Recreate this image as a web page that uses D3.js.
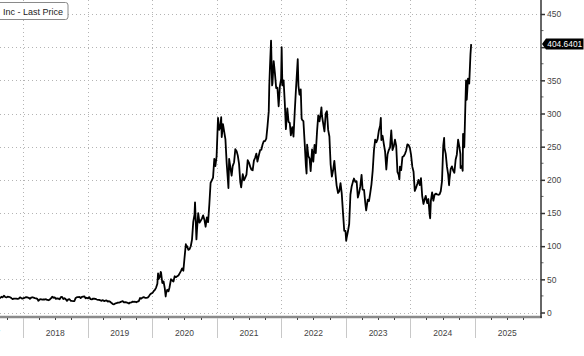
<!DOCTYPE html>
<html>
<head>
<meta charset="utf-8">
<script src="https://cdn.jsdelivr.net/npm/d3@7"></script>
<style>
  html, body { margin: 0; padding: 0; background: #fff; }
  svg { display: block; }
  text { font-family: "Liberation Sans", Arial, sans-serif; }
</style>
</head>
<body>
<svg id="chart" width="584" height="356"></svg>
<script>
// ---- Data ----
const seriesName = "Inc - Last Price";
const lastValueLabel = "404.6401";
const yTicks = [0, 50, 100, 150, 200, 250, 300, 350, 400, 450];
const yTickLabelsHidden = [400]; // covered by the last-value tag
const yearLabels = ["2017", "2018", "2019", "2020", "2021", "2022", "2023", "2024", "2025"];

const dates = [
  "2017-08-04","2017-08-11","2017-08-18","2017-08-25",
  "2017-09-01","2017-09-08","2017-09-15","2017-09-22","2017-09-29",
  "2017-10-06","2017-10-13","2017-10-20","2017-10-27",
  "2017-11-03","2017-11-10","2017-11-17","2017-11-24",
  "2017-12-01","2017-12-08","2017-12-15","2017-12-22","2017-12-29",
  "2018-01-05","2018-01-12","2018-01-19","2018-01-26",
  "2018-02-02","2018-02-09","2018-02-16","2018-02-23",
  "2018-03-02","2018-03-09","2018-03-16","2018-03-23","2018-03-29",
  "2018-04-06","2018-04-13","2018-04-20","2018-04-27",
  "2018-05-04","2018-05-11","2018-05-18","2018-05-25",
  "2018-06-01","2018-06-08","2018-06-15","2018-06-22","2018-06-29",
  "2018-07-06","2018-07-13","2018-07-20","2018-07-27",
  "2018-08-03","2018-08-10","2018-08-17","2018-08-24","2018-08-31",
  "2018-09-07","2018-09-14","2018-09-21","2018-09-28",
  "2018-10-05","2018-10-12","2018-10-19","2018-10-26",
  "2018-11-02","2018-11-09","2018-11-16","2018-11-23","2018-11-30",
  "2018-12-07","2018-12-14","2018-12-21","2018-12-28",
  "2019-01-04","2019-01-11","2019-01-18","2019-01-25",
  "2019-02-01","2019-02-08","2019-02-15","2019-02-22",
  "2019-03-01","2019-03-08","2019-03-15","2019-03-22","2019-03-29",
  "2019-04-05","2019-04-12","2019-04-18","2019-04-26",
  "2019-05-03","2019-05-10","2019-05-17","2019-05-24","2019-05-31",
  "2019-06-07","2019-06-14","2019-06-21","2019-06-28",
  "2019-07-05","2019-07-12","2019-07-19","2019-07-26",
  "2019-08-02","2019-08-09","2019-08-16","2019-08-23","2019-08-30",
  "2019-09-06","2019-09-13","2019-09-20","2019-09-27",
  "2019-10-04","2019-10-11","2019-10-18","2019-10-25",
  "2019-11-01","2019-11-08","2019-11-15","2019-11-22","2019-11-29",
  "2019-12-06","2019-12-13","2019-12-20","2019-12-27",
  "2020-01-03","2020-01-10","2020-01-17","2020-01-24","2020-01-31",
  "2020-02-04","2020-02-07","2020-02-14","2020-02-19","2020-02-21","2020-02-28",
  "2020-03-06","2020-03-13","2020-03-18","2020-03-20","2020-03-27",
  "2020-04-03","2020-04-09","2020-04-17","2020-04-24",
  "2020-05-01","2020-05-08","2020-05-15","2020-05-22","2020-05-29",
  "2020-06-05","2020-06-12","2020-06-19","2020-06-26",
  "2020-07-02","2020-07-10","2020-07-13","2020-07-17","2020-07-24","2020-07-31",
  "2020-08-07","2020-08-14","2020-08-21","2020-08-28","2020-08-31",
  "2020-09-08","2020-09-11","2020-09-18","2020-09-25",
  "2020-10-02","2020-10-09","2020-10-16","2020-10-23","2020-10-30",
  "2020-11-06","2020-11-13","2020-11-20","2020-11-27",
  "2020-12-04","2020-12-11","2020-12-18","2020-12-24","2020-12-31",
  "2021-01-08","2021-01-15","2021-01-22","2021-01-26","2021-01-29",
  "2021-02-05","2021-02-12","2021-02-19","2021-02-26",
  "2021-03-05","2021-03-08","2021-03-12","2021-03-19","2021-03-26",
  "2021-04-01","2021-04-09","2021-04-16","2021-04-23","2021-04-30",
  "2021-05-07","2021-05-14","2021-05-19","2021-05-28",
  "2021-06-04","2021-06-11","2021-06-18","2021-06-25",
  "2021-07-02","2021-07-09","2021-07-16","2021-07-23","2021-07-30",
  "2021-08-06","2021-08-13","2021-08-19","2021-08-27",
  "2021-09-03","2021-09-10","2021-09-17","2021-09-24",
  "2021-10-01","2021-10-08","2021-10-15","2021-10-22","2021-10-25","2021-10-29",
  "2021-11-04","2021-11-10","2021-11-12","2021-11-19","2021-11-26",
  "2021-12-03","2021-12-10","2021-12-17","2021-12-24","2021-12-31",
  "2022-01-03","2022-01-07","2022-01-14","2022-01-21","2022-01-27",
  "2022-02-04","2022-02-11","2022-02-18","2022-02-24",
  "2022-03-04","2022-03-11","2022-03-18","2022-03-25",
  "2022-04-04","2022-04-08","2022-04-14","2022-04-21","2022-04-26","2022-04-29",
  "2022-05-06","2022-05-13","2022-05-20","2022-05-24","2022-05-27",
  "2022-06-03","2022-06-10","2022-06-16","2022-06-24",
  "2022-07-01","2022-07-08","2022-07-15","2022-07-22","2022-07-29",
  "2022-08-05","2022-08-12","2022-08-16","2022-08-19","2022-08-26",
  "2022-09-02","2022-09-09","2022-09-16","2022-09-23","2022-09-30",
  "2022-10-07","2022-10-14","2022-10-21","2022-10-28",
  "2022-11-04","2022-11-10","2022-11-18","2022-11-25",
  "2022-12-02","2022-12-09","2022-12-16","2022-12-23","2022-12-30",
  "2023-01-03","2023-01-06","2023-01-13","2023-01-20","2023-01-27",
  "2023-02-03","2023-02-10","2023-02-16","2023-02-24",
  "2023-03-03","2023-03-10","2023-03-17","2023-03-24","2023-03-31",
  "2023-04-06","2023-04-14","2023-04-21","2023-04-26",
  "2023-05-05","2023-05-12","2023-05-19","2023-05-26",
  "2023-06-02","2023-06-09","2023-06-16","2023-06-23","2023-06-30",
  "2023-07-07","2023-07-14","2023-07-18","2023-07-21","2023-07-28",
  "2023-08-04","2023-08-11","2023-08-18","2023-08-25",
  "2023-09-01","2023-09-08","2023-09-15","2023-09-22","2023-09-29",
  "2023-10-06","2023-10-13","2023-10-20","2023-10-27","2023-10-31",
  "2023-11-03","2023-11-10","2023-11-17","2023-11-24",
  "2023-12-01","2023-12-08","2023-12-15","2023-12-22","2023-12-29",
  "2024-01-05","2024-01-12","2024-01-19","2024-01-26",
  "2024-02-02","2024-02-09","2024-02-16","2024-02-23",
  "2024-03-01","2024-03-08","2024-03-15","2024-03-22","2024-03-28",
  "2024-04-05","2024-04-12","2024-04-19","2024-04-22","2024-04-26",
  "2024-05-03","2024-05-10","2024-05-17","2024-05-24","2024-05-31",
  "2024-06-07","2024-06-14","2024-06-21","2024-06-28",
  "2024-07-05","2024-07-10","2024-07-12","2024-07-19","2024-07-26",
  "2024-08-02","2024-08-07","2024-08-09","2024-08-16","2024-08-23","2024-08-30",
  "2024-09-06","2024-09-13","2024-09-20","2024-09-27",
  "2024-10-04","2024-10-10","2024-10-11","2024-10-18","2024-10-23","2024-10-25",
  "2024-11-01","2024-11-08","2024-11-11","2024-11-15","2024-11-22","2024-11-29",
  "2024-12-06","2024-12-10"
];

const prices = [
  23.1,23.8,23.0,21.9,
  23.7,22.9,25.3,23.4,22.7,
  23.8,23.7,23.0,21.7,
  20.2,20.8,21.0,21.0,
  20.4,21.0,22.9,21.7,20.8,
  21.6,22.4,23.3,22.8,
  22.2,20.7,22.3,23.0,
  22.4,21.8,21.4,20.6,17.7,
  19.9,20.0,19.3,19.7,
  19.6,20.1,18.9,18.5,
  19.4,21.2,23.9,22.2,22.9,
  20.6,21.2,20.9,19.9,
  23.1,23.6,20.4,21.5,20.1,
  17.5,19.7,20.0,17.7,
  17.4,17.2,17.3,22.0,
  23.1,23.3,23.6,21.9,23.4,
  23.9,24.4,21.3,22.2,
  21.2,23.0,20.1,19.8,
  20.9,20.7,20.5,19.6,
  19.0,18.9,18.3,17.6,18.7,
  17.2,17.9,18.2,16.5,
  17.1,16.0,14.2,12.8,12.4,
  13.6,14.1,14.8,14.9,
  15.6,16.5,17.1,15.2,
  15.6,15.2,14.6,13.5,15.0,
  15.2,16.4,16.0,16.2,
  15.4,16.5,17.2,21.9,
  20.9,22.5,23.1,22.2,22.0,
  22.3,23.9,27.0,28.7,
  29.5,32.1,34.0,37.6,43.4,
  59.1,50.3,53.6,61.2,60.1,44.5,
  46.9,36.4,24.1,28.5,34.3,
  32.0,38.2,50.1,48.3,
  46.8,54.6,53.3,54.5,55.7,
  59.0,62.4,66.6,63.0,
  80.6,102.9,100.3,100.1,94.5,95.4,
  99.9,110.0,136.7,147.4,166.1,
  110.1,124.2,149.8,135.4,
  138.4,141.5,146.4,140.0,129.3,
  143.3,136.2,163.2,195.3,
  199.3,203.3,231.7,220.6,235.2,
  293.3,275.4,282.2,294.4,264.5,
  284.0,272.8,260.9,225.2,
  199.3,187.7,231.6,218.3,206.2,
  220.6,226.6,246.3,243.3,236.5,
  224.1,196.6,188.7,208.4,
  199.3,203.3,207.9,229.6,
  226.0,219.9,215.3,214.4,229.1,
  233.3,239.5,227.6,237.1,
  244.7,245.4,253.3,258.4,
  258.4,262.0,281.0,303.2,341.6,371.3,
  409.9,342.3,345.3,379.0,360.6,
  338.3,339.0,310.9,341.2,352.3,
  399.9,342.3,349.9,314.6,276.4,
  307.8,287.4,285.7,266.9,
  279.4,265.1,302.6,336.9,
  381.8,341.8,328.3,336.3,292.1,290.3,
  288.6,256.5,221.3,209.4,253.2,
  235.7,232.2,213.1,245.7,
  227.3,252.8,240.1,272.2,297.1,
  288.2,300.0,309.3,296.7,284.8,
  272.9,299.7,303.4,275.3,265.3,
  223.1,204.9,214.4,228.5,
  207.5,191.3,180.2,182.9,
  194.9,179.1,150.2,123.2,123.2,
  108.1,113.1,122.4,133.4,177.9,
  189.98,196.9,202.0,196.9,
  197.8,173.4,180.1,190.4,207.5,
  185.1,185.0,165.1,153.8,
  170.1,167.9,180.1,193.2,
  213.97,244.4,260.5,256.6,261.8,
  274.4,281.4,293.3,260.0,266.4,
  253.9,242.7,215.5,238.6,
  245.0,248.5,274.4,244.9,250.2,
  260.5,251.1,212.0,207.3,200.8,
  219.96,214.7,234.3,235.5,
  238.8,243.8,253.5,252.5,248.5,
  237.5,219.9,212.2,183.3,
  187.9,193.6,199.95,191.97,
  202.6,175.3,163.6,170.8,175.8,
  164.9,171.1,147.1,142.1,168.3,
  181.2,168.5,177.5,179.2,178.1,
  177.5,178.0,183.0,197.9,
  251.5,263.3,248.2,239.2,219.8,
  207.7,191.8,200.0,216.1,220.3,214.1,
  210.7,230.3,238.3,260.5,
  250.1,238.8,217.8,220.7,213.7,269.2,
  248.98,321.2,350.0,320.7,352.6,345.2,
  389.2,404.6401
];

// ---- Chart ----
const svg = d3.select("#chart");
const axisX = 541;      // right value axis position
const baseY = 317;      // bottom time axis line

const parse = d3.timeParse("%Y-%m-%d");
const data = dates.map((d, i) => ({ date: parse(d), value: prices[i] }))
                  .filter(d => d.value != null);

const x = d3.scaleTime()
  .domain([new Date(2018, 0, 1), new Date(2026, 0, 1)])
  .range([23, 539.6]);
const y = d3.scaleLinear().domain([0, 450]).range([312.5, 14]);

// horizontal dotted gridlines
svg.append("g").selectAll("line").data(yTicks).join("line")
  .attr("x1", 0).attr("x2", axisX)
  .attr("y1", d => Math.round(y(d)) + 0.5).attr("y2", d => Math.round(y(d)) + 0.5)
  .attr("stroke", "#b4b4b4").attr("stroke-width", 1)
  .attr("stroke-dasharray", "1,3");

// vertical dotted gridlines at year boundaries
const yearStarts = d3.timeYear.range(new Date(2017, 0, 1), new Date(2026, 0, 2));
const innerYears = yearStarts.filter(d => x(d) > 0 && x(d) < axisX - 2);
svg.append("g").selectAll("line").data(innerYears).join("line")
  .attr("x1", d => Math.round(x(d)) + 0.5).attr("x2", d => Math.round(x(d)) + 0.5)
  .attr("y1", 0).attr("y2", 313)
  .attr("stroke", "#b4b4b4").attr("stroke-width", 1)
  .attr("stroke-dasharray", "1,3");

// price line
const line = d3.line().x(d => x(d.date)).y(d => y(d.value));
svg.append("path").datum(data)
  .attr("d", line)
  .attr("fill", "none")
  .attr("stroke", "#000")
  .attr("stroke-width", 1.8)
  .attr("stroke-linejoin", "round");

// bottom axis line
svg.append("line")
  .attr("x1", 0).attr("x2", axisX + 1)
  .attr("y1", baseY).attr("y2", baseY)
  .attr("stroke", "#8a8a8a").attr("stroke-width", 2.5);

// quarterly small ticks on bottom axis
const quarters = d3.timeMonth.every(3).range(new Date(2017, 0, 1), new Date(2026, 0, 1));
svg.append("g").selectAll("line").data(quarters.filter(d => x(d) > 0 && x(d) < axisX)).join("line")
  .attr("x1", d => Math.round(x(d)) + 0.5).attr("x2", d => Math.round(x(d)) + 0.5)
  .attr("y1", baseY + 1).attr("y2", baseY + 3)
  .attr("stroke", "#444").attr("stroke-width", 1);

// year separators below axis
svg.append("g").selectAll("line").data(innerYears).join("line")
  .attr("x1", d => Math.round(x(d)) + 0.5).attr("x2", d => Math.round(x(d)) + 0.5)
  .attr("y1", baseY + 1).attr("y2", 338)
  .attr("stroke", "#c8c8c8").attr("stroke-width", 1);

// year labels centred in each year
svg.append("g").selectAll("text").data(yearLabels).join("text")
  .attr("x", d => (x(new Date(+d, 0, 1)) + x(new Date(+d + 1, 0, 1))) / 2)
  .attr("y", 336)
  .attr("text-anchor", "middle")
  .attr("font-size", 8.5)
  .attr("fill", "#444")
  .text(d => d);

// right value axis
const yAxis = d3.axisRight(y).tickValues(yTicks).tickSize(4).tickPadding(2)
  .tickFormat(d => yTickLabelsHidden.includes(d) ? "" : d3.format("d")(d));
const gy = svg.append("g").attr("transform", `translate(${axisX},0)`).call(yAxis);
gy.select(".domain").remove();
gy.selectAll(".tick line").attr("stroke", "#333").attr("stroke-width", 1.5);
gy.selectAll(".tick text").attr("font-size", 8.5).attr("fill", "#444")
  .attr("font-family", "'Liberation Sans', Arial, sans-serif");
// minor ticks
const minor = yTicks.slice(0, -1).map(d => d + 25);
svg.append("g").selectAll("line").data(minor).join("line")
  .attr("x1", axisX).attr("x2", axisX + 2.5)
  .attr("y1", d => y(d)).attr("y2", d => y(d))
  .attr("stroke", "#666").attr("stroke-width", 1);
svg.append("line")
  .attr("x1", axisX).attr("x2", axisX)
  .attr("y1", 0).attr("y2", baseY + 1)
  .attr("stroke", "#333").attr("stroke-width", 1.5);

// last-value tag
const last = data[data.length - 1];
const ty = y(last.value);
svg.append("path")
  .attr("d", `M${axisX + 1},${ty} L${axisX + 5},${ty - 5.5} L583.5,${ty - 5.5} L583.5,${ty + 5.5} L${axisX + 5},${ty + 5.5} Z`)
  .attr("fill", "#000");
svg.append("text")
  .attr("x", (axisX + 5 + 583.5) / 2).attr("y", ty + 3)
  .attr("text-anchor", "middle")
  .attr("font-size", 8.2).attr("fill", "#fff")
  .attr("textLength", 35).attr("lengthAdjust", "spacingAndGlyphs")
  .text(lastValueLabel);

// legend box (cut off at left edge, as in the reference)
svg.append("rect")
  .attr("x", -8).attr("y", 2.5).attr("width", 76).attr("height", 17)
  .attr("rx", 2.5).attr("fill", "#fff")
  .attr("stroke", "#8a8a8a").attr("stroke-width", 1);
svg.append("text")
  .attr("x", 3).attr("y", 14.5)
  .attr("font-size", 9).attr("fill", "#222")
  .text(seriesName);
</script>
</body>
</html>
